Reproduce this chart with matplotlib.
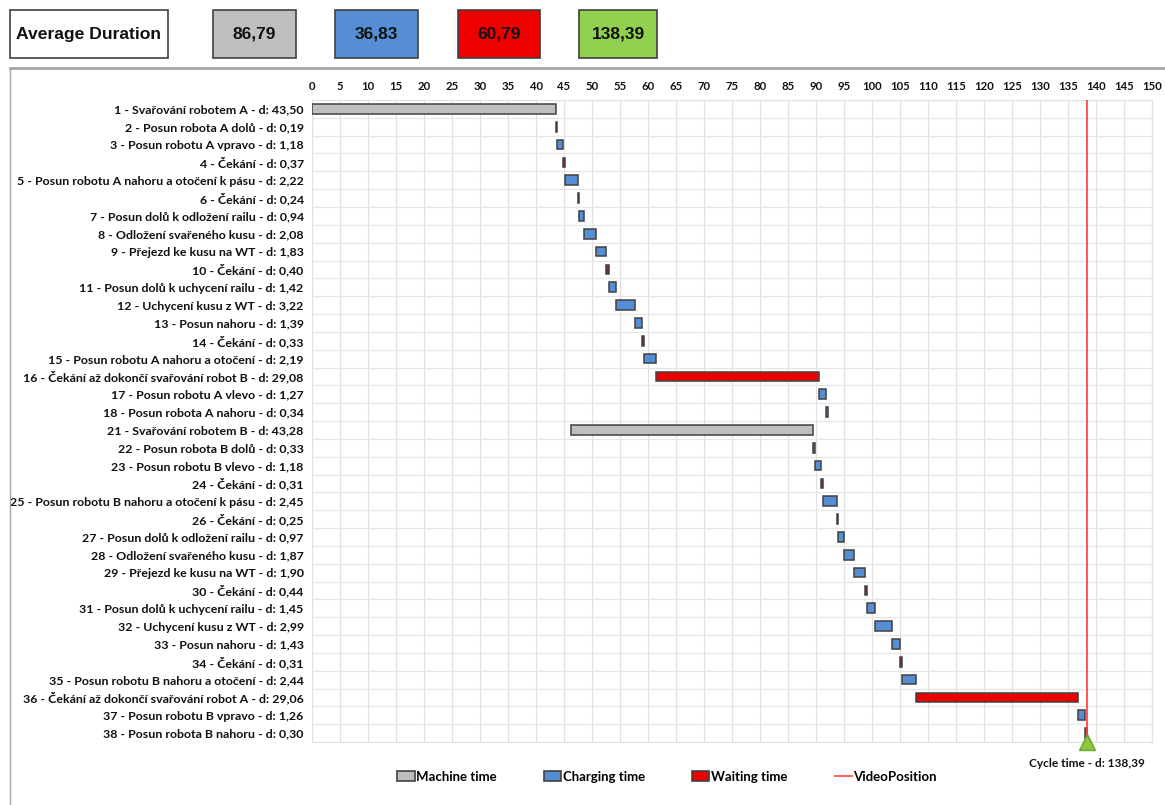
import matplotlib
matplotlib.use("Agg")
import matplotlib.pyplot as plt
from matplotlib.patches import Rectangle, Patch
from matplotlib.lines import Line2D

# ---------------- data ----------------
labels = [
    "1 - Svařování robotem A - d: 43,50",
    "2 - Posun robota A dolů - d: 0,19",
    "3 - Posun robotu A vpravo - d: 1,18",
    "4 - Čekání - d: 0,37",
    "5 - Posun robotu A nahoru a otočení k pásu - d: 2,22",
    "6 - Čekání - d: 0,24",
    "7 - Posun dolů k odložení railu - d: 0,94",
    "8 - Odložení svařeného kusu - d: 2,08",
    "9 - Přejezd ke kusu na WT - d: 1,83",
    "10 - Čekání - d: 0,40",
    "11 - Posun dolů k uchycení railu - d: 1,42",
    "12 - Uchycení kusu z WT - d: 3,22",
    "13 - Posun nahoru - d: 1,39",
    "14 - Čekání - d: 0,33",
    "15 - Posun robotu A nahoru a otočení - d: 2,19",
    "16 - Čekání až dokončí svařování robot B - d: 29,08",
    "17 - Posun robotu A vlevo - d: 1,27",
    "18 - Posun robota A nahoru - d: 0,34",
    "21 - Svařování robotem B - d: 43,28",
    "22 - Posun robota B dolů - d: 0,33",
    "23 - Posun robotu B vlevo - d: 1,18",
    "24 - Čekání - d: 0,31",
    "25 - Posun robotu B nahoru a otočení k pásu - d: 2,45",
    "26 - Čekání - d: 0,25",
    "27 - Posun dolů k odložení railu - d: 0,97",
    "28 - Odložení svařeného kusu - d: 1,87",
    "29 - Přejezd ke kusu na WT - d: 1,90",
    "30 - Čekání - d: 0,44",
    "31 - Posun dolů k uchycení railu - d: 1,45",
    "32 - Uchycení kusu z WT - d: 2,99",
    "33 - Posun nahoru - d: 1,43",
    "34 - Čekání - d: 0,31",
    "35 - Posun robotu B nahoru a otočení - d: 2,44",
    "36 - Čekání až dokončí svařování robot A - d: 29,06",
    "37 - Posun robotu B vpravo - d: 1,26",
    "38 - Posun robota B nahoru - d: 0,30",
]
starts = [0.00, 43.50, 43.69, 44.87, 45.24, 47.46, 47.70, 48.64, 50.72, 52.55,
          52.95, 54.37, 57.59, 58.98, 59.31, 61.50, 90.58, 91.85,
          46.17, 89.45, 89.78, 90.96, 91.27, 93.72, 93.97, 94.94, 96.81, 98.71,
          99.15, 100.60, 103.59, 105.02, 105.33, 107.77, 136.83, 138.09]
durations = [43.50, 0.19, 1.18, 0.37, 2.22, 0.24, 0.94, 2.08, 1.83, 0.40,
             1.42, 3.22, 1.39, 0.33, 2.19, 29.08, 1.27, 0.34,
             43.28, 0.33, 1.18, 0.31, 2.45, 0.25, 0.97, 1.87, 1.90, 0.44,
             1.45, 2.99, 1.43, 0.31, 2.44, 29.06, 1.26, 0.30]
kinds = ["M", "C", "C", "W", "C", "W", "C", "C", "C", "W",
         "C", "C", "C", "W", "C", "W", "C", "C",
         "M", "C", "C", "W", "C", "W", "C", "C", "C", "W",
         "C", "C", "C", "W", "C", "W", "C", "C"]
summary_labels = ["86,79", "36,83", "60,79", "138,39"]
cycle_time = 138.39
cycle_label = "Cycle time - d: 138,39"
legend_names = ["Machine time", "Charging time", "Waiting time", "VideoPosition"]

# ---------------- style ----------------
colors = {"M": "#BFBFBF", "C": "#558ED5", "W": "#EE0000"}
box_colors = ["#BFBFBF", "#558ED5", "#EE0000", "#92D050"]
edge = "#404040"
lab_font = ["Lato", "DejaVu Sans"]

W, H = 1165, 805
fig = plt.figure(figsize=(W / 100, H / 100), dpi=100)

def fx(px):
    return px / W

def fy(py):
    return 1 - py / H

# header boxes
def header_box(x0, x1, color, text, size):
    r = Rectangle((fx(x0), fy(58)), fx(x1) - fx(x0), fy(10) - fy(58),
                  transform=fig.transFigure, facecolor=color,
                  edgecolor="#404040", linewidth=1.2)
    fig.add_artist(r)
    fig.text(fx((x0 + x1) / 2), fy(34), text, ha="center", va="center",
             fontsize=size, fontweight="bold", family="Liberation Sans",
             color="#111111")

header_box(10, 168, "white", "Average Duration", 12.6)
for (x0, x1), c, t in zip([(213, 296), (335, 418), (458, 540), (579, 657)],
                          box_colors, summary_labels):
    header_box(x0, x1, c, t, 12.5)

# chart frame
fig.add_artist(Line2D([fx(10), fx(1165)], [fy(68), fy(68)], transform=fig.transFigure,
                      color="#A6A6A6", linewidth=2.0))
fig.add_artist(Line2D([fx(10), fx(10)], [fy(68), fy(805)], transform=fig.transFigure,
                      color="#A6A6A6", linewidth=1.0))

# axes
ax = fig.add_axes([fx(312), fy(742), fx(1152) - fx(312), fy(100) - fy(742)])
n = len(labels)
ys = list(range(n))
for y, s, d, k in zip(ys, starts, durations, kinds):
    ax.barh(y, d, left=s, height=0.55, color=colors[k], edgecolor=edge,
            linewidth=1.1, zorder=3)

ax.set_xlim(0, 150)
ax.set_ylim(n - 0.5, -0.5)
ax.set_xticks(range(0, 151, 5))
ax.xaxis.tick_top()
ax.tick_params(axis="x", length=0, pad=6, labelsize=8.2)
for t in ax.get_xticklabels():
    t.set_fontweight("bold")
    t.set_family(lab_font)
    t.set_color("#111111")
ax.set_yticks(ys)
ax.set_yticklabels(labels)
ax.tick_params(axis="y", length=0, pad=6, labelsize=8.9)
for t in ax.get_yticklabels():
    t.set_fontweight("bold")
    t.set_family(lab_font)
    t.set_color("#111111")

# grid
ax.set_axisbelow(True)
ax.grid(axis="x", color="#E0E0E0", linewidth=0.9)
ax.set_yticks([y + 0.5 for y in range(-1, n)], minor=True)
ax.tick_params(axis="y", which="minor", length=0)
ax.grid(axis="y", which="minor", color="#E6E6E6", linewidth=0.9)
for sp in ax.spines.values():
    sp.set_color("#E0E0E0")
ax.spines["left"].set_visible(False)

# video position line + marker
ax.axvline(cycle_time, color="#FF3B3B", linewidth=1.2, zorder=4)
ax.plot([cycle_time], [n - 0.5], marker="^", markersize=12, color="#8DC63F",
        markeredgecolor="#6AA52A", clip_on=False, zorder=5)
ax.text(cycle_time, n + 0.4, cycle_label, ha="center", va="top", fontsize=8.6,
        fontweight="bold", family=lab_font, color="#111111")

# legend
handles = [Patch(facecolor=colors["M"], edgecolor=edge, linewidth=1.2),
           Patch(facecolor=colors["C"], edgecolor=edge, linewidth=1.2),
           Patch(facecolor=colors["W"], edgecolor=edge, linewidth=1.2),
           Line2D([0], [0], color="#FF6B6B", linewidth=1.5)]
leg = fig.legend(handles, legend_names, loc="center", bbox_to_anchor=(fx(667), fy(777)),
                 ncol=4, frameon=False, handlelength=1.3, handleheight=0.8,
                 handletextpad=0.1, columnspacing=3.6,
                 prop={"family": lab_font, "weight": "bold", "size": 9.5})

fig.savefig("out.png", dpi=100)
